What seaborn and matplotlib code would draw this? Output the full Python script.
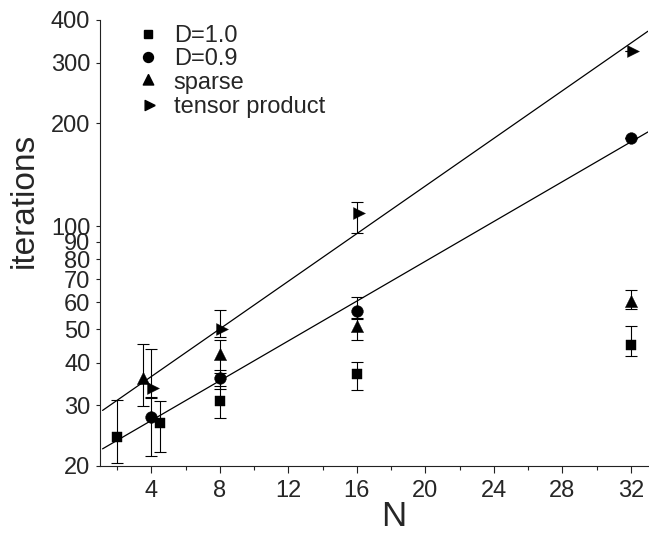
import numpy as np
import pandas as pd
import matplotlib
matplotlib.use("Agg")
import matplotlib.pyplot as plt
import seaborn as sns
from matplotlib.ticker import FixedLocator, NullLocator, FixedFormatter, MultipleLocator
from matplotlib.lines import Line2D

# ---------------- data ----------------
series_labels = ["D=1.0", "D=0.9", "sparse", "tensor product"]

d10_N = [2, 4.5, 8, 16, 32]
d10_it = [24.3, 26.7, 30.8, 37.0, 45.1]
d10_lo = [20.3, 21.9, 27.6, 33.3, 41.7]
d10_hi = [31.1, 30.9, 34.2, 40.2, 51.3]

d09_N = [4, 8, 16, 32]
d09_it = [27.7, 36.1, 56.7, 181.0]
d09_lo = [21.3, 33.6, 53.7, 181.0]
d09_hi = [31.5, 38.1, 62.0, 181.0]

sp_N = [3.5, 8, 16, 32]
sp_it = [35.5, 41.9, 50.6, 59.8]
sp_lo = [29.9, 37.4, 46.6, 57.3]
sp_hi = [45.3, 46.6, 54.1, 65.2]

tp_N = [4, 8, 16, 32]
tp_it = [33.7, 50.2, 109.5, 325.7]
tp_lo = [31.7, 47.4, 95.4, 325.7]
tp_hi = [43.7, 57.0, 117.5, 325.7]

fit_N = [1.15, 33.0]
fit_upper = [29.0, 371.0]
fit_lower = [22.4, 188.5]

x_ticks = [4, 8, 12, 16, 20, 24, 28, 32]
y_ticks = [20, 30, 40, 50, 60, 70, 80, 90, 100, 200, 300, 400]
y_tick_labels = [str(v) for v in y_ticks]

# ---------------- style ----------------
sns.set_theme(style="ticks")
plt.rcParams["font.family"] = ["Liberation Sans", "DejaVu Sans"]

W, H = 649, 533
fig = plt.figure(figsize=(W / 100, H / 100), dpi=100)
ax = fig.add_axes([100 / W, 1 - 465.7 / H, 548 / W, 445.7 / H])

# markers centred on their centroid (as in the original software)
tri_up = [(0, 4 / 3), (-1, -2 / 3), (1, -2 / 3), (0, 4 / 3)]
tri_right = [(4 / 3, 0), (-2 / 3, 1), (-2 / 3, -1), (4 / 3, 0)]

series = [
    (series_labels[0], d10_N, d10_it, d10_lo, d10_hi, "s", 45),
    (series_labels[1], d09_N, d09_it, d09_lo, d09_hi, "o", 71),
    (series_labels[2], sp_N, sp_it, sp_lo, sp_hi, tri_up, 139),
    (series_labels[3], tp_N, tp_it, tp_lo, tp_hi, tri_right, 130),
]

# fit lines
fit_df = pd.DataFrame({"N": fit_N * 2,
                       "it": fit_upper + fit_lower,
                       "fit": ["upper"] * 2 + ["lower"] * 2})
sns.lineplot(data=fit_df, x="N", y="it", units="fit", estimator=None,
             color="black", linewidth=0.9, ax=ax, zorder=2, legend=False)

handles = []
for label, N, it, lo, hi, mk, s in series:
    it_a = np.array(it)
    yerr = np.vstack([it_a - np.array(lo), np.array(hi) - it_a])
    ax.errorbar(N, it, yerr=yerr, fmt="none", ecolor="black",
                elinewidth=0.8, capsize=4.5, capthick=0.8, zorder=3)
    df = pd.DataFrame({"N": N, "it": it})
    sns.scatterplot(data=df, x="N", y="it", marker=mk, s=s, color="black",
                    edgecolor="black", linewidth=0.3, ax=ax, zorder=4,
                    legend=False)
    handles.append(Line2D([], [], linestyle="none", marker=mk, color="black",
                          markersize=np.sqrt(s) * 0.85, label=label))

ax.set_yscale("log")
ax.set_xlim(1, 33)
ax.set_ylim(20, 400)

ax.yaxis.set_major_locator(FixedLocator(y_ticks))
ax.yaxis.set_major_formatter(FixedFormatter(y_tick_labels))
ax.yaxis.set_minor_locator(NullLocator())
ax.xaxis.set_major_locator(FixedLocator(x_ticks))
ax.xaxis.set_minor_locator(MultipleLocator(2))

for sp in ["top", "right"]:
    ax.spines[sp].set_visible(False)
for sp in ["left", "bottom"]:
    ax.spines[sp].set_linewidth(0.8)
    ax.spines[sp].set_color("#222222")

ax.tick_params(axis="y", which="major", length=3, width=0.8, pad=4,
               labelsize=17, color="#222222")
ax.tick_params(axis="x", which="major", length=5, width=0.8, pad=5,
               labelsize=17, color="#222222")
ax.tick_params(axis="x", which="minor", length=3, width=0.8, color="#222222")

ax.set_xlabel("N", fontsize=25, labelpad=0)
ax.set_ylabel("iterations", fontsize=24)
ax.xaxis.set_label_coords(0.536, -0.076)
ax.yaxis.set_label_coords(-0.11, 0.596)

ax.legend(handles=handles, loc="upper left", bbox_to_anchor=(36 / 548, 0.9892),
          frameon=False, fontsize=17, handlelength=1.0, handletextpad=0.6,
          labelspacing=0.07, borderpad=0.0, borderaxespad=0.0)

fig.savefig("out.png", dpi=100)
